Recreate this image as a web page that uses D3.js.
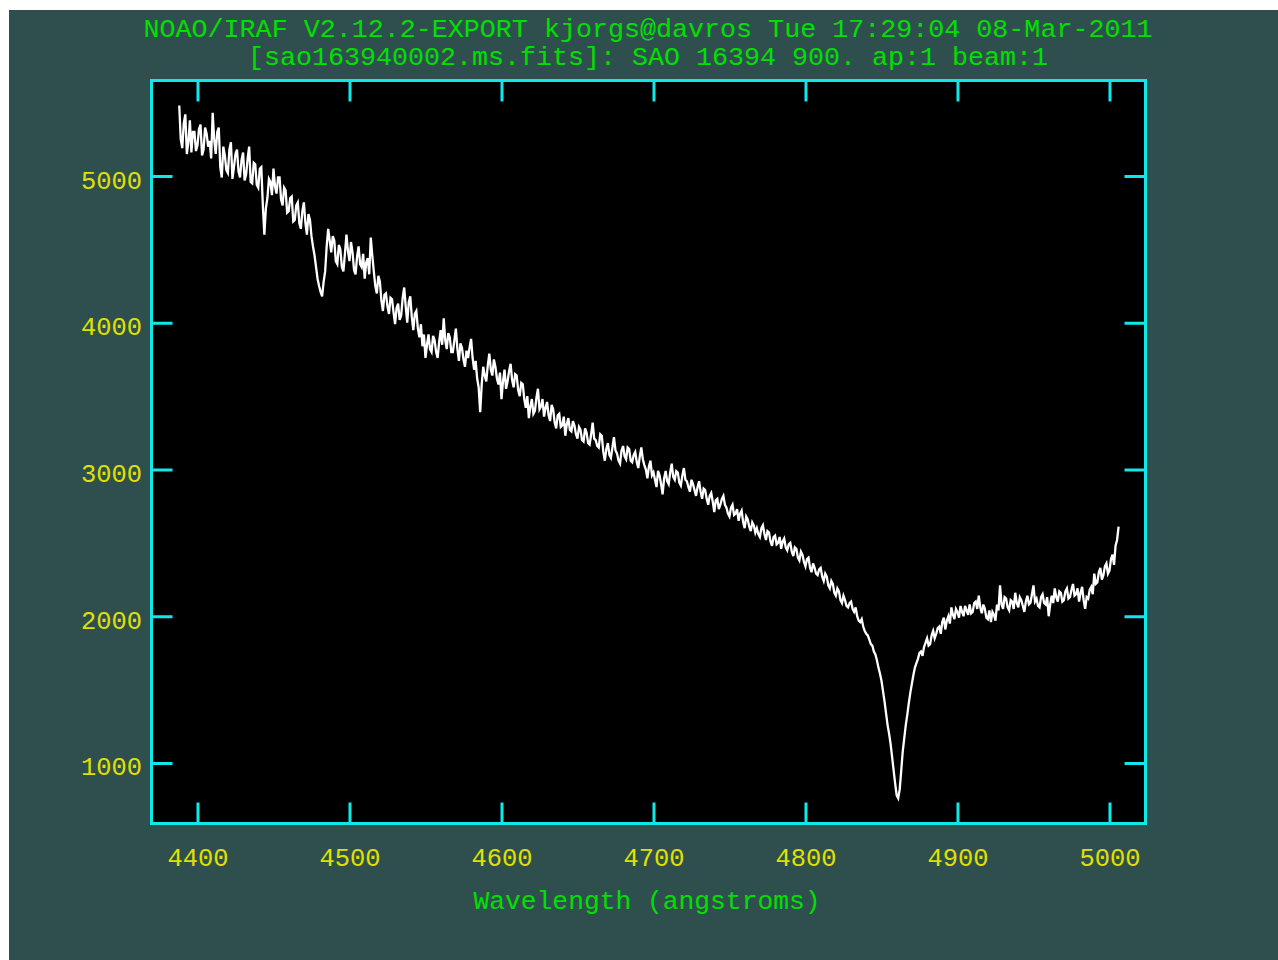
<!DOCTYPE html>
<html>
<head>
<meta charset="utf-8">
<script src="https://cdn.jsdelivr.net/npm/d3@7"></script>
<style>
  html, body { margin: 0; padding: 0; background: #ffffff; }
  svg { display: block; }
  text { font-family: "Liberation Mono", "DejaVu Sans Mono", monospace; }
</style>
</head>
<body>
<svg id="plot" width="1278" height="960"></svg>
<script>
// Spectrum header lines
const titleLines = [
  "NOAO/IRAF V2.12.2-EXPORT kjorgs@davros Tue 17:29:04 08-Mar-2011",
  "[sao163940002.ms.fits]: SAO 16394 900. ap:1 beam:1"
];
const xAxisTitle = "Wavelength (angstroms)";

// Axis ticks
const xTicks = [4400, 4500, 4600, 4700, 4800, 4900, 5000];
const yTicks = [1000, 2000, 3000, 4000, 5000];

// Linear dispersion solution (angstroms)
const wavelengthStart = 4388;
const wavelengthStep = 1;

// Extracted flux, one value per angstrom from 4388 to 5006
const flux = [
  5480, 5250, 5190, 5360, 5420, 5150, 5230, 5380, 5160, 5300, 5300, 5170, 5210, 5320, 5350, 5140, 5180, 5330, 5290, 5200,
  5240, 5120, 5430, 5250, 5150, 5300, 5330, 5060, 4990, 5200, 5140, 5040, 5020, 5180, 5230, 4980, 5060, 5150, 5180, 5030,
  4990, 5110, 5160, 4970, 5010, 5120, 5200, 4960, 4950, 5090, 5080, 4940, 4920, 5050, 5060, 4800, 4600, 4780, 4850, 4980,
  4960, 4870, 5050, 4930, 4880, 4990, 4990, 4840, 4800, 4920, 4900, 4750, 4760, 4850, 4860, 4690, 4700, 4800, 4820, 4680,
  4640, 4760, 4820, 4680, 4600, 4740, 4700, 4590, 4520, 4460, 4380, 4300, 4250, 4210, 4180, 4280, 4350, 4520, 4640, 4560,
  4480, 4590, 4560, 4420, 4400, 4530, 4500, 4380, 4350, 4470, 4600, 4490, 4420, 4550, 4480, 4360, 4330, 4450, 4520, 4400,
  4380, 4470, 4300, 4410, 4440, 4330, 4580, 4460, 4350, 4250, 4200, 4320, 4280, 4150, 4080, 4190, 4200, 4110, 4060, 4170,
  4160, 4070, 3990, 4100, 4130, 4020, 4050, 4170, 4240, 4110, 4000, 4140, 4180, 4040, 3950, 4060, 4080, 3960, 3900, 3990,
  3840, 3920, 3760, 3850, 3920, 3820, 3800, 3910, 3880, 3800, 3760, 3870, 3950, 3850, 4030, 3880, 3820, 3930, 3900, 3800,
  3800, 3880, 3960, 3820, 3740, 3860, 3830, 3750, 3700, 3810, 3760, 3830, 3890, 3760, 3680, 3740, 3620, 3560, 3390, 3580,
  3700, 3640, 3600, 3710, 3790, 3680, 3640, 3750, 3700, 3620, 3580, 3660, 3480, 3600, 3680, 3550, 3600, 3670, 3720, 3610,
  3560, 3650, 3640, 3540, 3500, 3590, 3580, 3480, 3420, 3500, 3350, 3430, 3480, 3380, 3400, 3490, 3550, 3410, 3430, 3480,
  3360, 3420, 3460, 3370, 3330, 3440, 3410, 3320, 3280, 3370, 3380, 3290, 3300, 3360, 3230, 3310, 3350, 3270, 3260, 3330,
  3300, 3240, 3210, 3290, 3270, 3200, 3190, 3280, 3250, 3180, 3170, 3240, 3320, 3210, 3200, 3160, 3150, 3240, 3230, 3120,
  3060, 3140, 3180, 3100, 3080, 3150, 3220, 3130, 3110, 3060, 3040, 3130, 3160, 3090, 3070, 3150, 3140, 3060, 3050, 3100,
  3120, 3050, 3010, 3090, 3150, 3070, 3030, 3000, 2940, 3020, 3060, 2960, 2980, 2930, 2880, 2990, 2960, 2900, 2830, 2940,
  2990, 2920, 2900, 2980, 3040, 2950, 2930, 2990, 2980, 2910, 2890, 2960, 3010, 2930, 2920, 2880, 2850, 2930, 2900, 2860,
  2820, 2880, 2920, 2850, 2800, 2870, 2860, 2800, 2760, 2820, 2840, 2780, 2710, 2790, 2800, 2730, 2760, 2800, 2820, 2760,
  2740, 2700, 2680, 2740, 2760, 2690, 2700, 2730, 2650, 2700, 2720, 2640, 2600, 2680, 2660, 2610, 2580, 2640, 2620, 2570,
  2600, 2560, 2540, 2600, 2620, 2560, 2520, 2580, 2570, 2510, 2480, 2540, 2550, 2490, 2500, 2540, 2460, 2510, 2530, 2470,
  2450, 2490, 2500, 2440, 2410, 2470, 2460, 2400, 2380, 2440, 2420, 2370, 2340, 2390, 2400, 2330, 2300, 2360, 2330, 2290,
  2280, 2320, 2330, 2270, 2240, 2290, 2270, 2210, 2190, 2240, 2220, 2160, 2140, 2190, 2170, 2110, 2090, 2140, 2110, 2070,
  2060, 2090, 2100, 2050, 2030, 2060, 2000, 1970, 1960, 1980, 1930, 1900, 1880, 1870, 1840, 1810, 1800, 1760, 1740, 1700,
  1650, 1610, 1560, 1490, 1420, 1340, 1260, 1200, 1130, 1040,  950,  860,  780,  760,  820,  950, 1080, 1170, 1260, 1330,
  1410, 1480, 1540, 1600, 1650, 1680, 1710, 1750, 1760, 1730, 1790, 1820, 1850, 1800, 1810, 1870, 1900, 1850, 1880, 1920,
  1930, 1880, 1960, 1990, 1910, 1970, 2000, 1950, 2060, 2010, 1980, 2050, 2030, 1990, 2070, 2030, 2000, 2070, 2040, 2010,
  2080, 2020, 2030, 2090, 2100, 2050, 2140, 2060, 2020, 2080, 2050, 1990, 1980, 2040, 1960, 2030, 2010, 1970, 2080, 2040,
  2210, 2080, 2050, 2130, 2120, 2060, 2040, 2110, 2100, 2050, 2160, 2090, 2060, 2130, 2110, 2070, 2030, 2100, 2140, 2080,
  2090, 2150, 2210, 2100, 2120, 2070, 2060, 2130, 2150, 2090, 2080, 2130, 2000, 2080, 2140, 2090, 2190, 2130, 2100, 2170,
  2160, 2100, 2110, 2170, 2190, 2120, 2130, 2180, 2220, 2140, 2150, 2190, 2100, 2160, 2200, 2110, 2050, 2130, 2120, 2180,
  2200, 2150, 2290, 2220, 2230, 2300, 2330, 2250, 2280, 2340, 2360, 2290, 2310, 2390, 2420, 2350, 2480, 2520, 2610
];

const spectrum = flux.map((f, i) => ({ w: wavelengthStart + i * wavelengthStep, f }));

// Colours of the IRAF graphics terminal
const BG = "#2f4f4f";
const GREEN = "#00e000";
const YELLOW = "#e0e000";
const CYAN = "#10e8e8";

const frame = { left: 151.5, right: 1145.5, top: 80.5, bottom: 823.5 };

const x = d3.scaleLinear().domain([4369.75, 5023.7]).range([frame.left, frame.right]);
const y = d3.scaleLinear().domain([587.7, 5650.8]).range([frame.bottom, frame.top]);

const svg = d3.select("#plot");

svg.append("rect")
  .attr("x", 9).attr("y", 10).attr("width", 1269).attr("height", 950)
  .attr("fill", BG);

svg.append("rect")
  .attr("x", frame.left).attr("y", frame.top)
  .attr("width", frame.right - frame.left).attr("height", frame.bottom - frame.top)
  .attr("fill", "#000000");

// Spectrum trace
const clipId = "plot-clip";
svg.append("clipPath").attr("id", clipId)
  .append("rect")
  .attr("x", frame.left).attr("y", frame.top)
  .attr("width", frame.right - frame.left).attr("height", frame.bottom - frame.top);

svg.append("path")
  .datum(spectrum)
  .attr("clip-path", `url(#${clipId})`)
  .attr("fill", "none")
  .attr("stroke", "#ffffff")
  .attr("stroke-width", 2.3)
  .attr("stroke-linejoin", "miter")
  .attr("d", d3.line().x(d => x(d.w)).y(d => y(d.f)));

// Inward ticks on all four sides
function styleAxis(g) {
  g.select(".domain").remove();
  g.selectAll(".tick line").attr("stroke", CYAN).attr("stroke-width", 3);
}

const tickLen = 21;

const gBottom = svg.append("g")
  .attr("transform", `translate(0,${frame.bottom})`)
  .call(d3.axisBottom(x).tickValues(xTicks).tickSizeInner(-tickLen).tickSizeOuter(0)
    .tickPadding(25).tickFormat(d3.format("d")));
styleAxis(gBottom);
gBottom.selectAll(".tick text")
  .attr("fill", YELLOW).attr("font-size", 25).attr("dy", null)
  .attr("y", 866 - frame.bottom)
  .attr("textLength", 61).attr("lengthAdjust", "spacingAndGlyphs");

const gTop = svg.append("g")
  .attr("transform", `translate(0,${frame.top})`)
  .call(d3.axisTop(x).tickValues(xTicks).tickSizeInner(-tickLen).tickSizeOuter(0).tickFormat(""));
styleAxis(gTop);

const gLeft = svg.append("g")
  .attr("transform", `translate(${frame.left},0)`)
  .call(d3.axisLeft(y).tickValues(yTicks).tickSizeInner(-tickLen).tickSizeOuter(0)
    .tickPadding(9.5).tickFormat(d3.format("d")));
styleAxis(gLeft);
gLeft.selectAll(".tick text")
  .attr("fill", YELLOW).attr("font-size", 25)
  .attr("dy", "0.48em")
  .attr("textLength", 61).attr("lengthAdjust", "spacingAndGlyphs");

const gRight = svg.append("g")
  .attr("transform", `translate(${frame.right},0)`)
  .call(d3.axisRight(y).tickValues(yTicks).tickSizeInner(-tickLen).tickSizeOuter(0).tickFormat(""));
styleAxis(gRight);

// Frame
svg.append("rect")
  .attr("x", frame.left).attr("y", frame.top)
  .attr("width", frame.right - frame.left).attr("height", frame.bottom - frame.top)
  .attr("fill", "none").attr("stroke", CYAN).attr("stroke-width", 3);

// Header and axis title
const titleSpecs = [
  { text: titleLines[0], yBase: 37, width: 1009 },
  { text: titleLines[1], yBase: 65, width: 800 }
];
svg.selectAll("text.header")
  .data(titleSpecs)
  .join("text")
  .attr("class", "header")
  .attr("x", 648).attr("y", d => d.yBase)
  .attr("text-anchor", "middle")
  .attr("fill", GREEN).attr("font-size", 26)
  .attr("textLength", d => d.width).attr("lengthAdjust", "spacingAndGlyphs")
  .text(d => d.text);

svg.append("text")
  .attr("x", 647).attr("y", 909)
  .attr("text-anchor", "middle")
  .attr("fill", GREEN).attr("font-size", 26)
  .attr("textLength", 347).attr("lengthAdjust", "spacingAndGlyphs")
  .text(xAxisTitle);
</script>
</body>
</html>
